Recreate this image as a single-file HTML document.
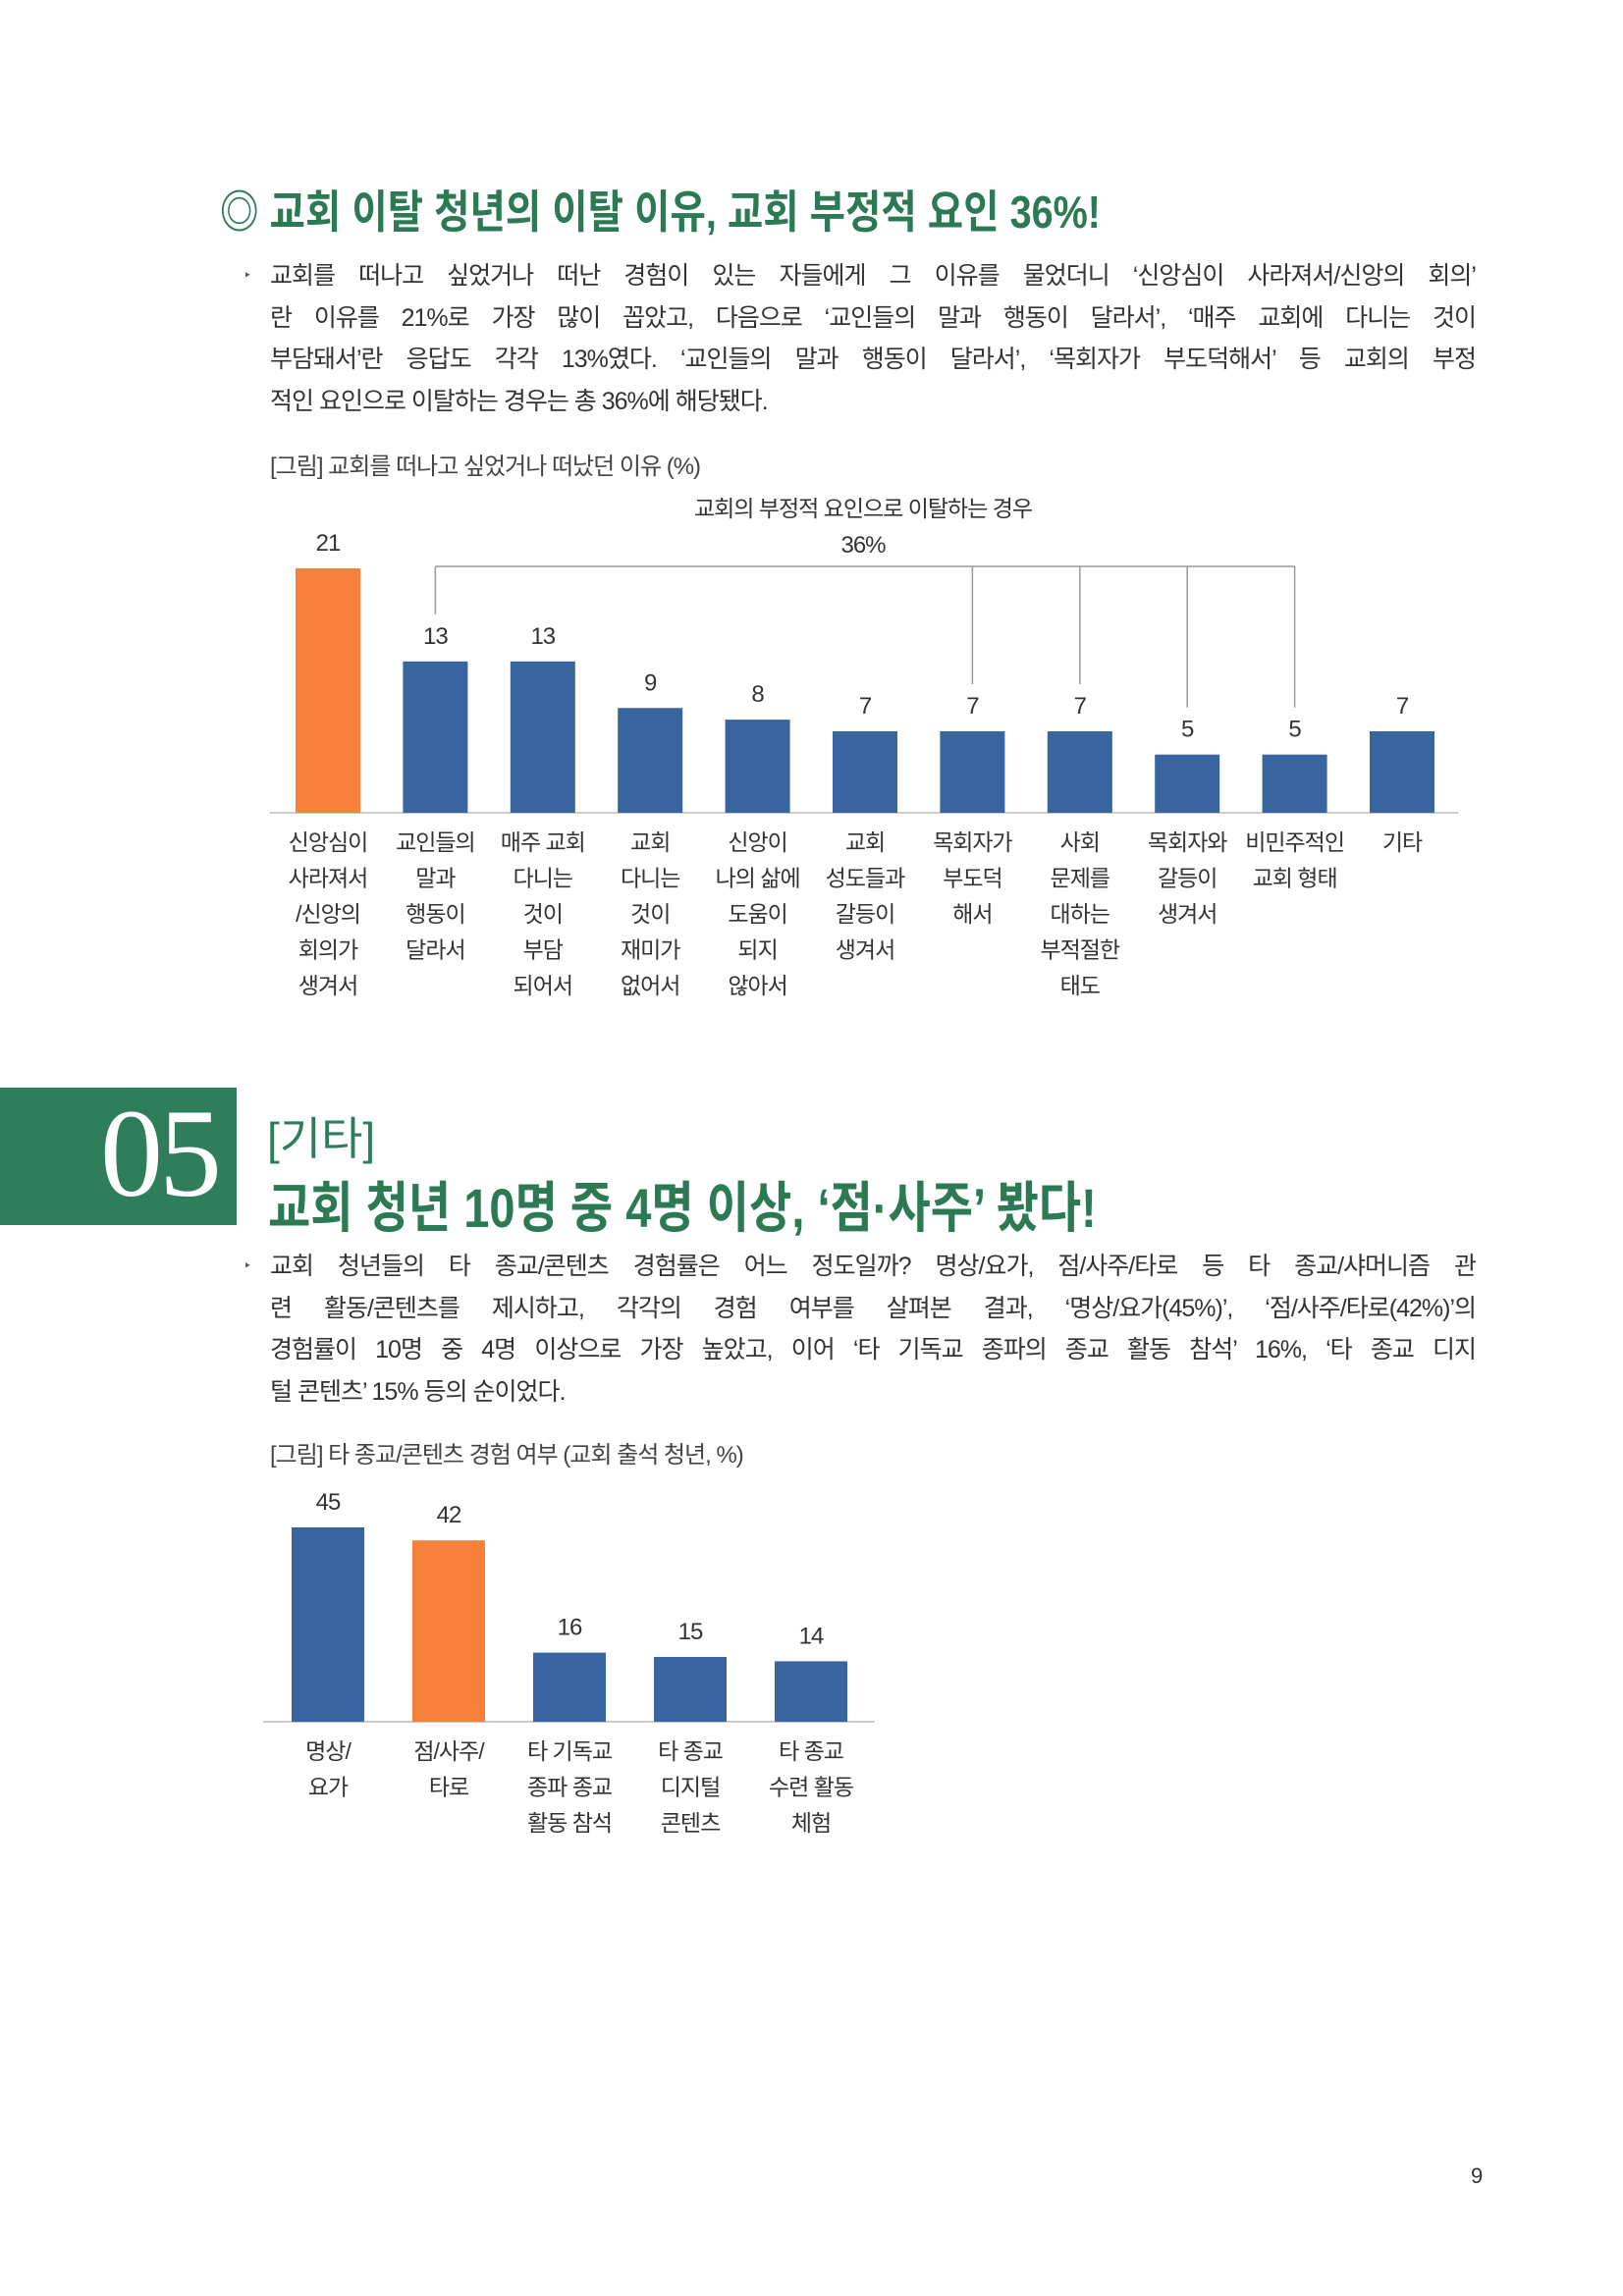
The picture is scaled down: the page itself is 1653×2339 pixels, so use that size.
<!DOCTYPE html>
<html><head><meta charset="utf-8">
<style>
body{margin:0;background:#fff;}
#page{position:relative;width:1653px;height:2339px;overflow:hidden;background:#fff;font-family:"Liberation Sans","Noto Sans CJK KR",sans-serif;color:#333;}
.abs{position:absolute;white-space:nowrap;}
.title{font-weight:bold;color:#2b7a53;transform-origin:left center;}
.para{position:absolute;left:275px;width:1228px;font-size:25px;letter-spacing:-1px;color:#333;}
.para div{height:42.5px;line-height:42.5px;text-align:justify;text-align-last:justify;}
.para div.last{text-align-last:left;}
.bullet{position:absolute;font-size:14px;color:#555;}
.cap{font-size:24px;letter-spacing:-1px;color:#444;}
svg text{font-family:"Liberation Sans","Noto Sans CJK KR",sans-serif;}
</style></head>
<body>
<div id="page">
<div class="abs title" style="left:224px;top:180px;font-size:46px;transform:scaleX(0.86);">◎ 교회 이탈 청년의 이탈 이유, 교회 부정적 요인 36%!</div>
<div class="bullet" style="left:248px;top:272px;">‣</div>
<div class="para" style="top:260px;">
<div>교회를 떠나고 싶었거나 떠난 경험이 있는 자들에게 그 이유를 물었더니 ‘신앙심이 사라져서/신앙의 회의’</div>
<div>란 이유를 21%로 가장 많이 꼽았고, 다음으로 ‘교인들의 말과 행동이 달라서’, ‘매주 교회에 다니는 것이</div>
<div>부담돼서’란 응답도 각각 13%였다. ‘교인들의 말과 행동이 달라서’, ‘목회자가 부도덕해서’ 등 교회의 부정</div>
<div class="last">적인 요인으로 이탈하는 경우는 총 36%에 해당됐다.</div>
</div>
<div class="abs cap" style="left:275px;top:455px;">[그림] 교회를 떠나고 싶었거나 떠났던 이유 (%)</div>

<div class="abs" style="left:0;top:1108px;width:241px;height:140px;background:#2e7d5b;"></div>
<div class="abs" style="left:102px;top:1100px;font-family:'Liberation Serif',serif;font-size:128px;color:#fff;line-height:150px;letter-spacing:-4px;">05</div>
<div class="abs" style="left:272px;top:1124px;font-size:46px;color:#2e7d5b;">[기타]</div>
<div class="abs title" style="left:273px;top:1186px;font-size:56px;transform:scaleX(0.84);">교회 청년 10명 중 4명 이상, ‘점·사주’ 봤다!</div>
<div class="bullet" style="left:248px;top:1281px;">‣</div>
<div class="para" style="top:1269px;">
<div>교회 청년들의 타 종교/콘텐츠 경험률은 어느 정도일까? 명상/요가, 점/사주/타로 등 타 종교/샤머니즘 관</div>
<div>련 활동/콘텐츠를 제시하고, 각각의 경험 여부를 살펴본 결과, ‘명상/요가(45%)’, ‘점/사주/타로(42%)’의</div>
<div>경험률이 10명 중 4명 이상으로 가장 높았고, 이어 ‘타 기독교 종파의 종교 활동 참석’ 16%, ‘타 종교 디지</div>
<div class="last">털 콘텐츠’ 15% 등의 순이었다.</div>
</div>
<div class="abs cap" style="left:275px;top:1462px;">[그림] 타 종교/콘텐츠 경험 여부 (교회 출석 청년, %)</div>
<div class="abs" style="left:1498px;top:2204px;font-size:22px;color:#333;">9</div>

<svg id="charts" width="1653" height="2339" style="position:absolute;left:0;top:0;"></svg>
</div>
<script>
const cats1 = ["신앙심이\n사라져서\n/신앙의\n회의가\n생겨서","교인들의\n말과\n행동이\n달라서","매주 교회\n다니는\n것이\n부담\n되어서","교회\n다니는\n것이\n재미가\n없어서","신앙이\n나의 삶에\n도움이\n되지\n않아서","교회\n성도들과\n갈등이\n생겨서","목회자가\n부도덕\n해서","사회\n문제를\n대하는\n부적절한\n태도","목회자와\n갈등이\n생겨서","비민주적인\n교회 형태","기타"];
const vals1 = [21,13,13,9,8,7,7,7,5,5,7];
const highlight1 = [0];
const bracketIdx1 = [1,6,7,8,9];
const cats2 = ["명상/\n요가","점/사주/\n타로","타 기독교\n종파 종교\n활동 참석","타 종교\n디지털\n콘텐츠","타 종교\n수련 활동\n체험"];
const vals2 = [45,42,16,15,14];
const highlight2 = [1];

const NS="http://www.w3.org/2000/svg";
const svg=document.getElementById('charts');
const BLUE="#3864a0", ORANGE="#f7813a";
function mk(tag,attrs,parent){const e=document.createElementNS(NS,tag);for(const k in attrs)e.setAttribute(k,attrs[k]);(parent||svg).appendChild(e);return e;}
function txt(x,y,s,size,parent){const t=mk('text',{x:x,y:y,'text-anchor':'middle','font-size':size,fill:'#333','letter-spacing':'-1'},parent);t.textContent=s;return t;}

function drawChart(cfg){
  const g=mk('g',{});
  
  
  const x=i=>cfg.x0+i*cfg.step;
  const y=v=>cfg.base-v*cfg.unit;
  const ax=mk('line',{x1:cfg.ax0,x2:cfg.ax1,y1:cfg.base,y2:cfg.base,stroke:'#ccc','stroke-width':2},g);
  
  
  cfg.vals.forEach((v,i)=>{
    const r=mk('rect',{x:x(i)-cfg.bw/2,y:y(v),width:cfg.bw,height:cfg.base-y(v),fill:cfg.hl.includes(i)?ORANGE:BLUE},g);
    
    
    const t=txt(x(i),y(v)-18,String(v),24,g);
    
    
    cfg.cats[i].split('\n').forEach((ln,j)=>{
      const l=txt(x(i),cfg.base+38+j*cfg.lh,ln,23,g);
      
      
    });
  });
  return {x,y,g};
}
const c1=drawChart({name:'chart1',cats:cats1,vals:vals1,hl:highlight1,x0:334,step:109.4,bw:66,base:828,unit:11.86,ax0:275,ax1:1485,lh:36.5});
// bracket for negative-factor group
const bTop=577;
const bx=bracketIdx1.map(i=>c1.x(i));
const hl=mk('line',{x1:Math.min(...bx),x2:Math.max(...bx),y1:bTop,y2:bTop,stroke:'#999','stroke-width':1.5},c1.g);


bracketIdx1.forEach(i=>{
  const v=mk('line',{x1:c1.x(i),x2:c1.x(i),y1:bTop,y2:c1.y(vals1[i])-48,stroke:'#999','stroke-width':1.5},c1.g);
  
  
});
const a1=txt(879,526,'교회의 부정적 요인으로 이탈하는 경우',23,c1.g);


const a2=txt(879,563,'36%',24,c1.g);


drawChart({name:'chart2',cats:cats2,vals:vals2,hl:highlight2,x0:334,step:123,bw:74,base:1754,unit:4.4,ax0:268,ax1:891,lh:36.5});
</script>
</body></html>
